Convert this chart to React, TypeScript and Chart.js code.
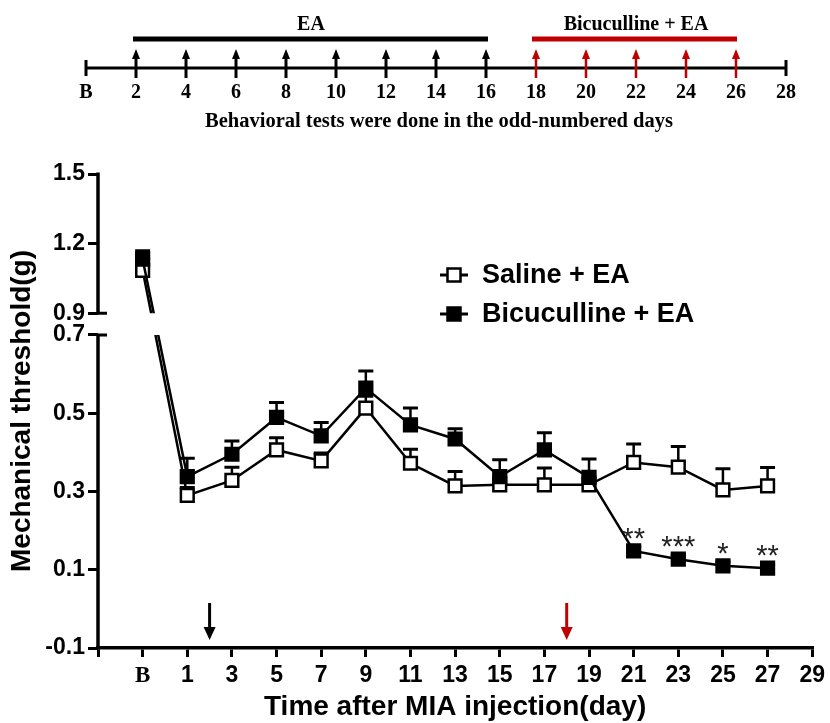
import React, { useEffect, useRef } from 'react';
import { Chart, registerables, LinearScale } from 'chart.js';

// ---------------- data ----------------
const days = [-1, 1, 3, 5, 7, 9, 11, 13, 15, 17, 19, 21, 23, 25, 27];
const salineEA = [1.085, 0.29, 0.328, 0.406, 0.378, 0.513, 0.372, 0.314, 0.317, 0.317, 0.317, 0.374, 0.362, 0.304, 0.314];
const salineErr = [0.05, 0.02, 0.034, 0.031, 0.02, 0.03, 0.036, 0.037, 0.02, 0.043, 0.02, 0.047, 0.053, 0.054, 0.047];
const bicEA = [1.133, 0.338, 0.395, 0.489, 0.442, 0.564, 0.47, 0.434, 0.338, 0.406, 0.336, 0.148, 0.127, 0.11, 0.104];
const bicErr = [0.036, 0.047, 0.034, 0.038, 0.034, 0.044, 0.043, 0.026, 0.043, 0.044, 0.047, 0.01, 0.01, 0.01, 0.01];
const significance = ['', '', '', '', '', '', '', '', '', '', '', '**', '***', '*', '**'];

const seriesNames = ['Saline + EA', 'Bicuculline + EA'];
const xTickValues = [-3, -1, 1, 3, 5, 7, 9, 11, 13, 15, 17, 19, 21, 23, 25, 27, 29];
const baselineTickValue = -1;
const baselineLabel = 'B';
const yTickValues = [-0.1, 0.1, 0.3, 0.5, 0.7, 0.9, 1.2, 1.5];
const yMin = -0.1;
const yMax = 1.5;
const breakLow = 0.7;
const breakHigh = 0.9;
const injectionArrowDays = [2, 18];
const xTitle = 'Time after MIA injection(day)';
const yTitle = 'Mechanical threshold(g)';

// timeline (top schematic)
const timelineDays = [0, 2, 4, 6, 8, 10, 12, 14, 16, 18, 20, 22, 24, 26, 28];
const timelineLabels = ['B', '2', '4', '6', '8', '10', '12', '14', '16', '18', '20', '22', '24', '26', '28'];
const eaDays = [2, 4, 6, 8, 10, 12, 14, 16];
const bicDays = [18, 20, 22, 24, 26];
const eaLabel = 'EA';
const bicLabel = 'Bicuculline + EA';
const timelineNote = 'Behavioral tests were done in the odd-numbered days';

// ---------------- styling constants ----------------
const RED = '#c00000';
const SANS = "'Liberation Sans', Arial, sans-serif";
const SERIF = "'Liberation Serif', 'Times New Roman', serif";
const LOWER_FRAC = 0.6606; // share of axis length used by -0.1..0.7
const UPPER_START = 0.7063; // where 0.9 starts on the axis (fraction)

function valueToDecimal(v: number) {
  if (v <= breakLow) return ((v - yMin) / (breakLow - yMin)) * LOWER_FRAC;
  if (v >= breakHigh) return UPPER_START + ((v - breakHigh) / (yMax - breakHigh)) * (1 - UPPER_START);
  return LOWER_FRAC + ((v - breakLow) / (breakHigh - breakLow)) * (UPPER_START - LOWER_FRAC);
}
function decimalToValue(d: number) {
  if (d <= LOWER_FRAC) return yMin + (d / LOWER_FRAC) * (breakLow - yMin);
  if (d >= UPPER_START) return breakHigh + ((d - UPPER_START) / (1 - UPPER_START)) * (yMax - breakHigh);
  return breakLow + ((d - LOWER_FRAC) / (UPPER_START - LOWER_FRAC)) * (breakHigh - breakLow);
}

class BrokenLinearScale extends LinearScale {
  static id = 'brokenLinear';
  static defaults = LinearScale.defaults;
  getPixelForValue(value: any) {
    if (value === null || value === undefined || isNaN(value)) return NaN;
    return (this as any).getPixelForDecimal(valueToDecimal(value));
  }
  getValueForPixel(pixel: number) {
    return decimalToValue((this as any).getDecimalForPixel(pixel));
  }
}

Chart.register(...registerables, BrokenLinearScale as any);

function drawArrow(ctx: CanvasRenderingContext2D, x: number, yTail: number, yTip: number, color: string, shaftW: number, headW: number, headH: number) {
  const dir = yTip > yTail ? 1 : -1;
  ctx.save();
  ctx.strokeStyle = color;
  ctx.fillStyle = color;
  ctx.lineWidth = shaftW;
  ctx.beginPath();
  ctx.moveTo(x, yTail);
  ctx.lineTo(x, yTip - dir * headH * 0.6);
  ctx.stroke();
  ctx.beginPath();
  ctx.moveTo(x, yTip);
  ctx.lineTo(x - headW / 2, yTip - dir * headH);
  ctx.lineTo(x + headW / 2, yTip - dir * headH);
  ctx.closePath();
  ctx.fill();
  ctx.restore();
}

const errorAndClipPlugin = {
  id: 'errorAndClip',
  beforeDatasetsDraw(chart: any) {
    const { ctx, chartArea, scales } = chart;
    const y = scales.y;
    const x = scales.x;
    const pHigh = y.getPixelForValue(breakHigh);
    const pLow = y.getPixelForValue(breakLow);
    ctx.save();
    ctx.beginPath();
    ctx.rect(chartArea.left - 30, chartArea.top - 30, chartArea.width + 60, pHigh - chartArea.top + 30);
    ctx.rect(chartArea.left - 30, pLow, chartArea.width + 60, chartArea.bottom - pLow + 30);
    ctx.clip();
    const groups = [
      { vals: salineEA, errs: salineErr },
      { vals: bicEA, errs: bicErr },
    ];
    ctx.strokeStyle = '#000';
    groups.forEach((g) => {
      days.forEach((d, i) => {
        const px = x.getPixelForValue(d);
        const py = y.getPixelForValue(g.vals[i]);
        const pt = y.getPixelForValue(g.vals[i] + g.errs[i]);
        ctx.lineWidth = 2.5;
        ctx.beginPath();
        ctx.moveTo(px, py);
        ctx.lineTo(px, pt);
        ctx.stroke();
        ctx.lineWidth = 3;
        ctx.beginPath();
        ctx.moveTo(px - 7.5, pt);
        ctx.lineTo(px + 7.5, pt);
        ctx.stroke();
      });
    });
  },
  afterDatasetsDraw(chart: any) {
    const { ctx, scales } = chart;
    ctx.restore();
    ctx.save();
    ctx.fillStyle = '#222';
    ctx.font = `29px ${SANS}`;
    ctx.textAlign = 'center';
    ctx.textBaseline = 'alphabetic';
    days.forEach((d, i) => {
      if (!significance[i]) return;
      const px = scales.x.getPixelForValue(d);
      const py = scales.y.getPixelForValue(bicEA[i]);
      ctx.fillText(significance[i], px, py - 3);
    });
    ctx.restore();
  },
};

const decorPlugin = {
  id: 'decor',
  afterDraw(chart: any) {
    const { ctx, chartArea, scales } = chart;
    const y = scales.y;
    const x = scales.x;
    const ax = chartArea.left;
    const pTop = y.getPixelForValue(yMax);
    const pHigh = y.getPixelForValue(breakHigh);
    const pLow = y.getPixelForValue(breakLow);
    const pBot = y.getPixelForValue(yMin);
    ctx.save();
    // broken y axis
    ctx.strokeStyle = '#000';
    ctx.lineWidth = 3.5;
    ctx.beginPath();
    ctx.moveTo(ax, pTop - 1.5);
    ctx.lineTo(ax, pHigh);
    ctx.moveTo(ax, pLow);
    ctx.lineTo(ax, pBot + 1.5);
    ctx.stroke();
    ctx.lineWidth = 3;
    ctx.beginPath();
    ctx.moveTo(ax, pHigh);
    ctx.lineTo(ax + 9, pHigh);
    ctx.moveTo(ax, pLow);
    ctx.lineTo(ax + 9, pLow);
    ctx.stroke();

    // injection arrows in the chart
    injectionArrowDays.forEach((d, i) => {
      const px = x.getPixelForValue(d);
      drawArrow(ctx, px, chartArea.bottom - 45, chartArea.bottom - 8, i === 0 ? '#000' : RED, 3, 12, 13);
    });

    // legend
    const legendX = 440;
    const rows = [
      { label: seriesNames[0], fill: '#fff', y: 275 },
      { label: seriesNames[1], fill: '#000', y: 314 },
    ];
    rows.forEach((r) => {
      ctx.strokeStyle = '#000';
      ctx.lineWidth = 3;
      ctx.beginPath();
      ctx.moveTo(legendX, r.y);
      ctx.lineTo(legendX + 28, r.y);
      ctx.stroke();
      ctx.fillStyle = r.fill;
      ctx.lineWidth = 2.5;
      ctx.beginPath();
      ctx.rect(legendX + 14 - 6.5, r.y - 6.5, 13, 13);
      ctx.fill();
      ctx.stroke();
      ctx.fillStyle = '#000';
      ctx.font = `bold 27px ${SANS}`;
      ctx.textAlign = 'left';
      ctx.textBaseline = 'middle';
      ctx.fillText(r.label, legendX + 42, r.y + 1);
    });

    // timeline schematic
    const tx = (d: number) => 86 + 25 * d;
    const lineY = 68;
    ctx.strokeStyle = '#000';
    ctx.lineWidth = 3;
    ctx.beginPath();
    ctx.moveTo(tx(timelineDays[0]), lineY);
    ctx.lineTo(tx(timelineDays[timelineDays.length - 1]), lineY);
    ctx.moveTo(tx(timelineDays[0]), lineY - 8);
    ctx.lineTo(tx(timelineDays[0]), lineY + 8);
    ctx.moveTo(tx(timelineDays[timelineDays.length - 1]), lineY - 8);
    ctx.lineTo(tx(timelineDays[timelineDays.length - 1]), lineY + 8);
    ctx.stroke();
    eaDays.forEach((d) => drawArrow(ctx, tx(d), 78, 49, '#000', 3, 8, 10));
    bicDays.forEach((d) => drawArrow(ctx, tx(d), 78, 49, RED, 2.5, 8, 10));
    // bars
    ctx.fillStyle = '#000';
    ctx.fillRect(tx(eaDays[0]) - 3, 36.5, tx(eaDays[eaDays.length - 1]) - tx(eaDays[0]) + 5, 5);
    ctx.fillStyle = RED;
    ctx.fillRect(tx(bicDays[0]) - 4, 36.5, tx(bicDays[bicDays.length - 1]) - tx(bicDays[0]) + 5, 5);
    ctx.fillStyle = '#000';
    ctx.font = `bold 20px ${SERIF}`;
    ctx.textAlign = 'center';
    ctx.textBaseline = 'middle';
    ctx.fillText(eaLabel, (tx(eaDays[0]) + tx(eaDays[eaDays.length - 1])) / 2, 25);
    ctx.fillText(bicLabel, (tx(bicDays[0]) + tx(bicDays[bicDays.length - 1])) / 2, 25);
    timelineDays.forEach((d, i) => {
      ctx.fillText(timelineLabels[i], tx(d), 93);
    });
    ctx.font = `bold 20.5px ${SERIF}`;
    ctx.fillText(timelineNote, 439, 122);
    ctx.restore();
  },
};

export default function App() {
  const ref = useRef<HTMLCanvasElement | null>(null);
  useEffect(() => {
    if (!ref.current) return;
    const chart = new Chart(ref.current, {
      type: 'line',
      data: {
        datasets: [
          {
            label: seriesNames[0],
            data: days.map((d, i) => ({ x: d, y: salineEA[i] })),
            borderColor: '#000',
            borderWidth: 2.5,
            pointStyle: 'rect',
            pointRadius: 9,
            pointBackgroundColor: '#fff',
            pointBorderColor: '#000',
            pointBorderWidth: 2.5,
            tension: 0,
            order: 2,
          },
          {
            label: seriesNames[1],
            data: days.map((d, i) => ({ x: d, y: bicEA[i] })),
            borderColor: '#000',
            borderWidth: 2.5,
            pointStyle: 'rect',
            pointRadius: 9,
            pointBackgroundColor: '#000',
            pointBorderColor: '#000',
            pointBorderWidth: 2.5,
            tension: 0,
            order: 1,
          },
        ],
      },
      options: {
        animation: false,
        responsive: false,
        events: [],
        layout: { padding: { left: 0, top: 174, right: 16, bottom: 0 } },
        plugins: { legend: { display: false }, tooltip: { enabled: false } },
        scales: {
          x: {
            type: 'linear',
            min: -3,
            max: 29,
            afterBuildTicks: (s: any) => {
              s.ticks = xTickValues.map((v) => ({ value: v }));
            },
            afterFit: (s: any) => {
              s.height = 75;
            },
            ticks: {
              autoSkip: false,
              maxRotation: 0,
              padding: 5,
              color: '#000',
              font: (c: any) =>
                c.tick && c.tick.value === baselineTickValue
                  ? { family: SERIF, size: 23, weight: 'bold' }
                  : { family: SANS, size: 23, weight: 'bold' },
              callback: (v: any) => (v === baselineTickValue ? baselineLabel : v === xTickValues[0] ? '' : String(v)),
            },
            grid: { drawOnChartArea: false, drawTicks: true, tickLength: 9, lineWidth: 3, color: '#000' },
            border: { display: true, color: '#000', width: 3.5 },
            title: {
              display: true,
              text: xTitle,
              color: '#000',
              font: { family: SANS, size: 28, weight: 'bold', lineHeight: 1.1 },
              padding: { top: 0, bottom: 0 },
            },
          },
          y: {
            type: 'brokenLinear' as any,
            min: yMin,
            max: yMax,
            afterBuildTicks: (s: any) => {
              s.ticks = yTickValues.map((v) => ({ value: v }));
            },
            afterFit: (s: any) => {
              s.width = 98;
            },
            ticks: {
              autoSkip: false,
              padding: 3,
              color: '#000',
              font: { family: SANS, size: 23, weight: 'bold' },
              callback: (v: any) => Number(v).toFixed(1),
            },
            grid: { drawOnChartArea: false, drawTicks: true, tickLength: 10, lineWidth: 3, color: '#000' },
            border: { display: false },
            title: {
              display: true,
              text: yTitle,
              color: '#000',
              font: { family: SANS, size: 28, weight: 'bold', lineHeight: 1.1 },
              padding: { top: 7, bottom: 0 },
            },
          },
        },
      } as any,
      plugins: [errorAndClipPlugin, decorPlugin],
    });
    return () => chart.destroy();
  }, []);
  return (
    <div style={{ position: 'fixed', left: 0, top: 0, width: 830, height: 723, background: '#fff' }}>
      <canvas ref={ref} width={830} height={723} style={{ display: 'block' }} />
    </div>
  );
}
